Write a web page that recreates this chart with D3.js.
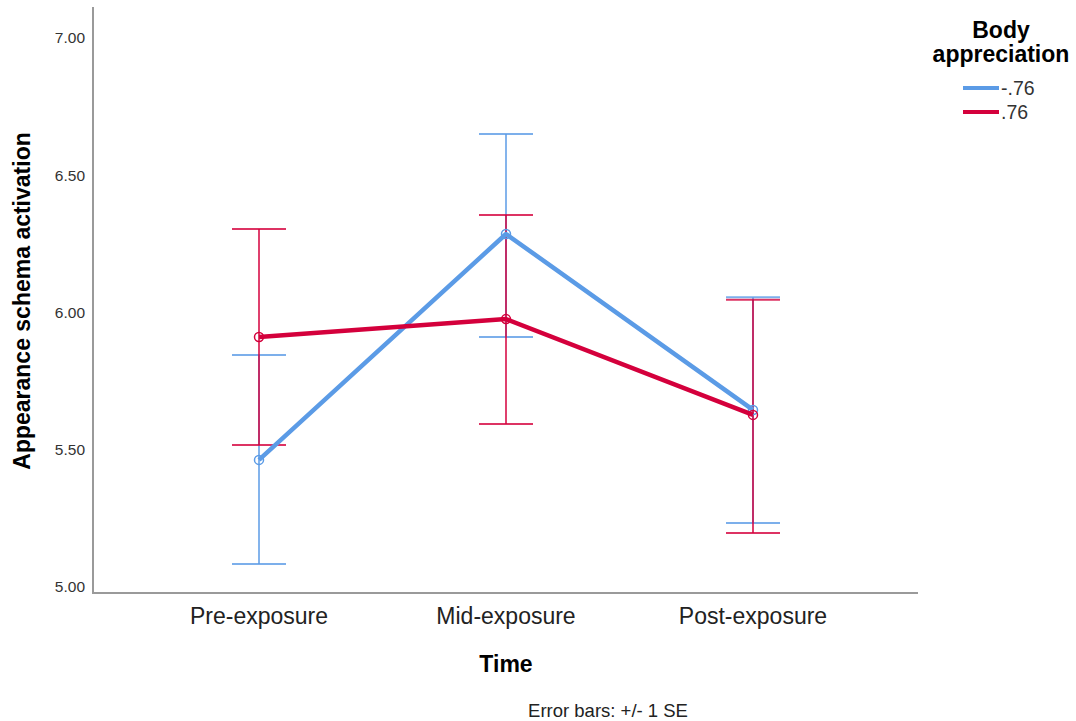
<!DOCTYPE html>
<html>
<head>
<meta charset="utf-8">
<script src="https://cdn.jsdelivr.net/npm/d3@7"></script>
<style>
  body { margin: 0; background: #fff; }
  svg { font-family: "Liberation Sans", Arial, sans-serif; }
</style>
</head>
<body>
<div id="chart"></div>
<script>
// data
var timePoints = ['Pre-exposure', 'Mid-exposure', 'Post-exposure'];
var groups = ['-.76', '.76'];
var lowMeans = [5.463, 6.286, 5.645];
var lowUpper = [5.845, 6.650, 6.056];
var lowLower = [5.084, 5.911, 5.233];
var highMeans = [5.911, 5.976, 5.627];
var highUpper = [6.304, 6.355, 6.046];
var highLower = [5.517, 5.594, 5.197];
var yTicks = [5.0, 5.5, 6.0, 6.5, 7.0];

var width = 1076, height = 721,
    colors = ['#5b9be6', '#d4003c'],
    axisColor = '#9a9a9a';

var series = [
  { name: groups[0], means: lowMeans, upper: lowUpper, lower: lowLower, color: colors[0] },
  { name: groups[1], means: highMeans, upper: highUpper, lower: highLower, color: colors[1] }
];

var svg = d3.select('#chart').append('svg')
  .attr('width', width)
  .attr('height', height);

var y = d3.scaleLinear().domain([5, 7]).range([587, 38]);
var x = d3.scalePoint().domain(timePoints).range([259, 753]);

// axes lines
svg.append('line')
  .attr('x1', 93).attr('x2', 93).attr('y1', 7).attr('y2', 593)
  .attr('stroke', axisColor).attr('stroke-width', 2);
svg.append('line')
  .attr('x1', 92).attr('x2', 918).attr('y1', 593).attr('y2', 593)
  .attr('stroke', axisColor).attr('stroke-width', 2);

// y tick labels
svg.append('g').selectAll('text')
  .data(yTicks).enter().append('text')
  .attr('x', 85)
  .attr('y', function(d) { return y(d); })
  .attr('dy', '.35em')
  .attr('text-anchor', 'end')
  .attr('font-size', '15.5px')
  .attr('fill', '#333')
  .text(function(d) { return d3.format('.2f')(d); });

// x category labels
svg.append('g').selectAll('text')
  .data(timePoints).enter().append('text')
  .attr('x', function(d) { return x(d); })
  .attr('y', 624)
  .attr('text-anchor', 'middle')
  .attr('font-size', '23px')
  .attr('fill', '#222')
  .text(function(d) { return d; });

// axis titles
svg.append('text')
  .attr('x', 506).attr('y', 672)
  .attr('text-anchor', 'middle')
  .attr('font-size', '23px').attr('font-weight', 'bold')
  .text('Time');

svg.append('text')
  .attr('transform', 'translate(30,301) rotate(-90)')
  .attr('text-anchor', 'middle')
  .attr('font-size', '23px').attr('font-weight', 'bold')
  .text('Appearance schema activation');

svg.append('text')
  .attr('x', 608).attr('y', 717)
  .attr('text-anchor', 'middle')
  .attr('font-size', '18.5px')
  .attr('fill', '#222')
  .text('Error bars: +/- 1 SE');

// error bars
var capHalf = 27;
series.forEach(function(s) {
  var g = svg.append('g').attr('class', 'errorbars');
  timePoints.forEach(function(t, i) {
    g.append('line')
      .attr('x1', x(t)).attr('x2', x(t))
      .attr('y1', y(s.upper[i])).attr('y2', y(s.lower[i]))
      .attr('stroke', s.color).attr('stroke-width', 1.5);
    [s.upper[i], s.lower[i]].forEach(function(v) {
      g.append('line')
        .attr('x1', x(t) - capHalf).attr('x2', x(t) + capHalf)
        .attr('y1', y(v)).attr('y2', y(v))
        .attr('stroke', s.color).attr('stroke-width', 2)
        .attr('stroke-opacity', 0.8);
    });
  });
});

// mean lines and markers
var line = d3.line()
  .x(function(d, i) { return x(timePoints[i]); })
  .y(function(d) { return y(d); });

series.forEach(function(s) {
  svg.append('path')
    .datum(s.means)
    .attr('d', line)
    .attr('fill', 'none')
    .attr('stroke', s.color)
    .attr('stroke-width', 4.5)
    .attr('stroke-linejoin', 'round');
  svg.append('g').selectAll('circle')
    .data(s.means).enter().append('circle')
    .attr('cx', function(d, i) { return x(timePoints[i]); })
    .attr('cy', function(d) { return y(d); })
    .attr('r', 4.5)
    .attr('fill', 'none')
    .attr('stroke', s.color)
    .attr('stroke-width', 1.5);
});

// legend
var legend = svg.append('g');
legend.append('text')
  .attr('x', 1001).attr('y', 38)
  .attr('text-anchor', 'middle')
  .attr('font-size', '23px').attr('font-weight', 'bold')
  .text('Body');
legend.append('text')
  .attr('x', 1001).attr('y', 62)
  .attr('text-anchor', 'middle')
  .attr('font-size', '23px').attr('font-weight', 'bold')
  .text('appreciation');

series.forEach(function(s, i) {
  var ly = 88 + i * 24;
  legend.append('line')
    .attr('x1', 963).attr('x2', 999)
    .attr('y1', ly).attr('y2', ly)
    .attr('stroke', s.color).attr('stroke-width', 4);
  legend.append('text')
    .attr('x', 1001).attr('y', ly)
    .attr('dy', '.35em')
    .attr('font-size', '19.5px')
    .attr('fill', '#333')
    .text(s.name);
});
</script>
</body>
</html>
